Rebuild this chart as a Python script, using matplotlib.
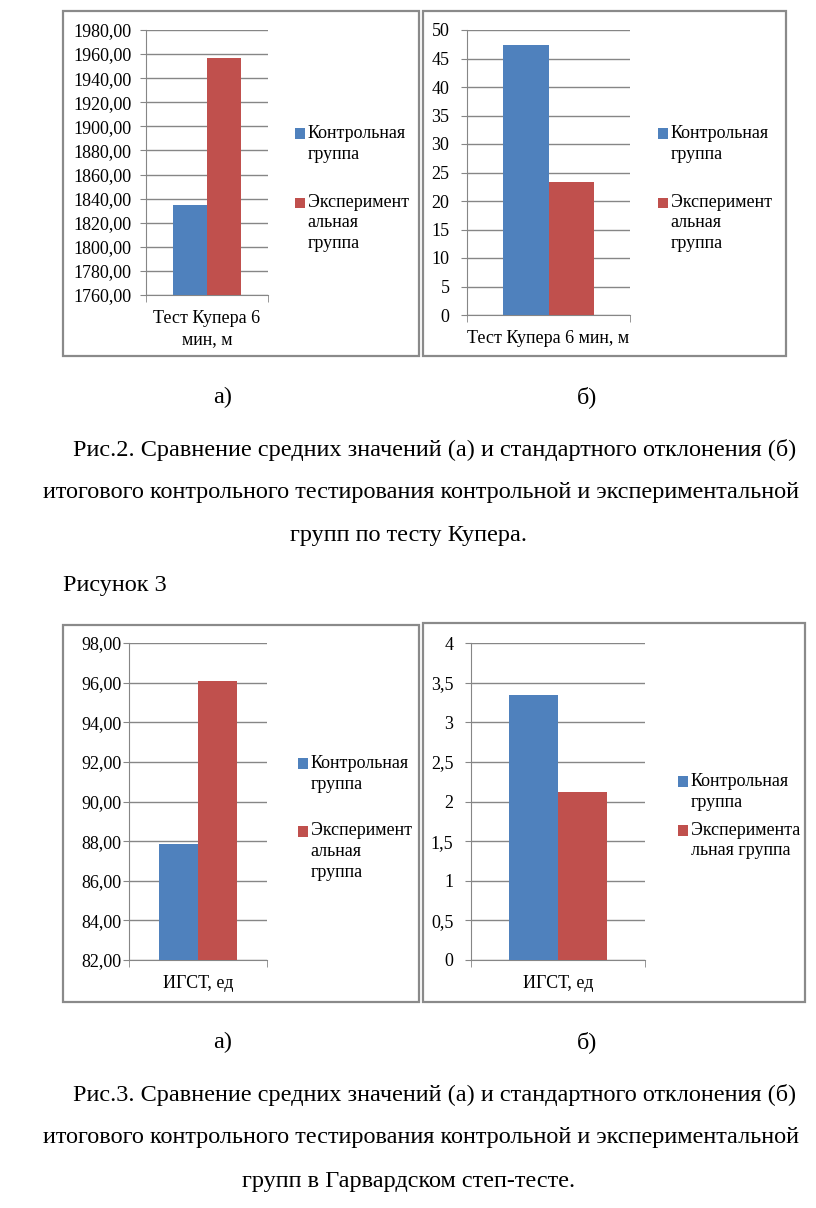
import matplotlib.pyplot as plt
from matplotlib.patches import Rectangle
from matplotlib.legend_handler import HandlerBase

plt.rcParams['font.family'] = ['Liberation Serif', 'DejaVu Serif']

W, H = 816, 1208

# data
groups = ['Контрольная\nгруппа', 'Эксперимент\nальная\nгруппа']
groups_4 = ['Контрольная\nгруппа', 'Эксперимента\nльная группа']
colors = ['#4F81BD', '#C0504D']

cooper_label = 'Тест Купера 6\nмин, м'
cooper_label_2 = 'Тест Купера 6 мин, м'
harvard_label = 'ИГСТ, ед'

cooper_mean = [1835.0, 1956.5]
cooper_sd = [47.4, 23.3]
harvard_mean = [87.85, 96.1]
harvard_sd = [3.34, 2.12]

grid_c = '#868686'
fs = 13
leg_ls = 1.28          # line spacing of legend text
pitch_pt = 14.4        # ~20 px between legend lines


class FirstLineSquare(HandlerBase):
    # square next to the first line of a multi-line label, like Excel does
    def __init__(self, nlines):
        super().__init__()
        self.nlines = nlines

    def create_artists(self, legend, orig_handle, xdescent, ydescent,
                       width, height, fontsize, trans):
        shift = (self.nlines - 1) / 2 * pitch_pt
        r = Rectangle((-xdescent, -ydescent + shift), width, height,
                      facecolor=orig_handle.patches[0].get_facecolor(),
                      edgecolor='none', transform=trans)
        return [r]


def fig_rect(l, t, r, b):
    return [l / W, 1 - b / H, (r - l) / W, (b - t) / H]


def panel(box, ax_box, vals, ylim, step, fmt, cat, labels, leg_xy, ypad,
          lspace, w=0.28):
    l, t, r, b = box
    fig.patches.append(Rectangle((l / W, 1 - b / H), (r - l) / W, (b - t) / H,
                                 transform=fig.transFigure, fill=False,
                                 edgecolor='#8a8a8a', lw=1.6))
    ax = fig.add_axes(fig_rect(*ax_box))
    ax.set_facecolor('none')
    xs = [-w / 2, w / 2]
    conts = []
    for x, v, c, lab in zip(xs, vals, colors, labels):
        conts.append(ax.bar(x, v, width=w, color=c, label=lab, zorder=3))
    ax.set_xlim(-0.5, 0.5)
    ax.set_ylim(*ylim)
    ticks = []
    v = ylim[0]
    while v <= ylim[1] + 1e-9:
        ticks.append(round(v, 4))
        v += step
    ax.set_yticks(ticks)
    ax.set_yticklabels([fmt(t_) for t_ in ticks], fontsize=fs)
    ax.yaxis.grid(True, color=grid_c, lw=1, zorder=0)
    ax.tick_params(axis='y', length=4, color=grid_c, pad=ypad)
    ax.set_xticks([0])
    ax.set_xticklabels([cat], fontsize=fs, linespacing=1.3)
    ax.set_xticks([-0.5, 0.5], minor=True)
    ax.tick_params(axis='x', which='major', length=0, pad=11)
    ax.tick_params(axis='x', which='minor', length=5, color=grid_c)
    for s in ['top', 'right']:
        ax.spines[s].set_visible(False)
    for s in ['left', 'bottom']:
        ax.spines[s].set_color(grid_c)
    hmap = {c: FirstLineSquare(lab.count('\n') + 1) for c, lab in zip(conts, labels)}
    leg = ax.legend(loc='upper left', bbox_to_anchor=(leg_xy[0] / W, 1 - leg_xy[1] / H),
                    bbox_transform=fig.transFigure, frameon=False, fontsize=fs,
                    borderpad=0, borderaxespad=0, handlelength=0.55, handleheight=0.55,
                    handletextpad=0.15, labelspacing=lspace, handler_map=hmap)
    for tx in leg.get_texts():
        tx.set_linespacing(leg_ls)
    return ax


fig = plt.figure(figsize=(W / 100, H / 100), dpi=100)

f2 = lambda v: f'{v:.2f}'.replace('.', ',')
fi = lambda v: f'{v:g}'.replace('.', ',')

panel((63, 11, 419, 356), (146, 30, 268, 295), cooper_mean, (1760, 1980), 20, f2,
      cooper_label, groups, (295, 125), 6.5, 1.72)
panel((423, 11, 786, 356), (467, 30, 630, 315), cooper_sd, (0, 50), 5, fi,
      cooper_label_2, groups, (658, 125), 8.6, 1.72)
panel((63, 625, 419, 1002), (129, 643, 267, 960), harvard_mean, (82, 98), 2, f2,
      harvard_label, groups, (298, 755), 1.4, 1.65)
panel((423, 623, 805, 1002), (471, 643, 645, 960), harvard_sd, (0, 4), 0.5, fi,
      harvard_label, groups_4, (678, 773), 8.6, 0.62)

cfs = 17.45
txt = [
    (223, 397, 'а)', 'center'),
    (587, 397, 'б)', 'center'),
    (73, 450, 'Рис.2. Сравнение средних значений (а) и стандартного отклонения (б)', 'left'),
    (43, 493, 'итогового контрольного тестирования контрольной и экспериментальной', 'left'),
    (408, 535, 'групп по тесту Купера.', 'center'),
    (63, 585, 'Рисунок 3', 'left'),
    (223, 1042, 'а)', 'center'),
    (587, 1042, 'б)', 'center'),
    (73, 1095, 'Рис.3. Сравнение средних значений (а) и стандартного отклонения (б)', 'left'),
    (43, 1138, 'итогового контрольного тестирования контрольной и экспериментальной', 'left'),
    (409, 1182, 'групп в Гарвардском степ-тесте.', 'center'),
]
for x, y, s, ha in txt:
    fig.text(x / W, 1 - y / H, s, fontsize=cfs, ha=ha, va='center')

fig.savefig('out.png', dpi=100)
